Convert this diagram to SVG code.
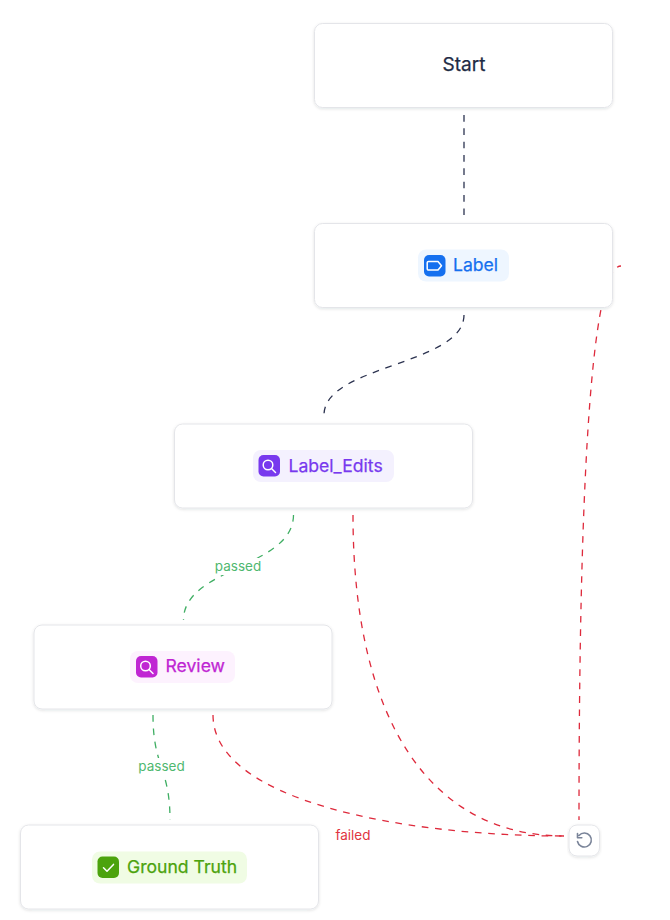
<svg xmlns="http://www.w3.org/2000/svg" width="670" height="920" viewBox="0 0 670 920">
<defs>
<filter id="sh" x="-5%" y="-15%" width="110%" height="130%"><feDropShadow dx="0" dy="1" stdDeviation="1.5" flood-color="#1e293b" flood-opacity="0.12"/></filter>
<style>
.node{fill:#fff;stroke:#e4e5e9;stroke-width:1;filter:url(#sh)}
.t{font-family:Inter,"Liberation Sans",sans-serif;font-size:17.6px;font-weight:400;text-anchor:start;stroke-width:.25px}
.e{fill:none;stroke-width:1.3;stroke-dasharray:6.67 6.67}
.dark{stroke:#2c3350}.green{stroke:#3fae63}.red{stroke:#de2a3c}
.el{font-family:Inter,"Liberation Sans",sans-serif;font-size:13.5px;text-anchor:middle}
.ic{fill:none;stroke:#fff;stroke-width:1.5;stroke-linecap:round;stroke-linejoin:round}
</style>
</defs>
<rect width="670" height="920" fill="#fff"/>
<g id="connectors">
<path class="e dark" d="M464 115V216"/>
<path class="e dark" d="M464 315C464 365 324 365 324 415"/>
<path class="e green" d="M293.500 515C293.500 567.500 183.500 567.500 183.500 620"/>
<path class="e green" d="M153 715C153 767.500 170 767.500 170 820"/>
<path class="e red" d="M353 515C353 720 430 836 564 836"/>
<path class="e red" d="M213 715C213 800 400 836 564 836"/>
<path class="e red" stroke-dashoffset="3" d="M579 820C579 500 590 266 621 266"/>
</g>
<g id="edge-labels">
<rect x="213" y="558" width="50" height="17" fill="#fff"/>
<text class="el" x="238" y="571" fill="#4fb86f">passed</text>
<rect x="137" y="758" width="50" height="17" fill="#fff"/>
<text class="el" x="161.500" y="771" fill="#4fb86f">passed</text>
<text class="el" x="353" y="840" fill="#e0353f">failed</text>
</g>
<g id="start"><rect class="node" x="314.500" y="23.500" width="298" height="84" rx="8"/>
<text class="t" x="464" y="70.500" fill="#1e2b45" stroke="#1e2b45" style="text-anchor:middle;font-size:19px">Start</text></g>
<g id="label"><rect class="node" x="314.500" y="223.500" width="298" height="84" rx="8"/>
<rect x="418" y="249.500" width="91" height="32" rx="8" fill="#eef6ff"/>
<rect x="424" y="255" width="21.500" height="21.500" rx="5" fill="#1570ef"/>
<path class="ic" d="M428.500 261.500h9.500l3.500 4.200-3.500 4.300h-9.500a1.300 1.300 0 0 1-1.300-1.300v-5.900a1.300 1.300 0 0 1 1.300-1.300z"/>
<text class="t" x="453" y="271" fill="#1570ef" stroke="#1570ef">Label</text></g>
<g id="label-edits"><rect class="node" x="174.500" y="424" width="298" height="84" rx="8"/>
<rect x="253" y="450" width="141" height="32" rx="8" fill="#f4f1fe"/>
<rect x="258.500" y="455" width="21.500" height="21.500" rx="5" fill="#7839ee"/>
<circle class="ic" cx="268" cy="465" r="4.800"/><path class="ic" d="M271.500 468.500l4 4"/>
<text class="t" x="288.500" y="472" fill="#7839ee" stroke="#7839ee">Label_Edits</text></g>
<g id="review"><rect class="node" x="34" y="625" width="298" height="84" rx="8"/>
<rect x="130" y="651" width="105" height="32" rx="8" fill="#fdf2fe"/>
<rect x="136" y="656" width="21.500" height="21.500" rx="5" fill="#c026d3"/>
<circle class="ic" cx="145.500" cy="666" r="4.800"/><path class="ic" d="M149 669.500l4 4"/>
<text class="t" x="165.500" y="672" fill="#c026d3" stroke="#c026d3">Review</text></g>
<g id="ground-truth"><rect class="node" x="20.500" y="825" width="298" height="84" rx="8"/>
<rect x="92" y="851.500" width="155" height="32" rx="8" fill="#f0fce4"/>
<rect x="97.500" y="856.500" width="21.500" height="21.500" rx="5" fill="#4ca30d"/>
<path class="ic" d="M103.500 867.800l3.500 3.400 6.500-6.800"/>
<text class="t" x="127" y="872.500" fill="#4ca30d" stroke="#4ca30d">Ground Truth</text></g>
<g id="loop"><rect x="569" y="825" width="30.500" height="31" rx="8" fill="#fff" stroke="#e4e5e9" filter="url(#sh)"/>
<path fill="none" stroke="#7a8499" stroke-width="1.600" stroke-linecap="round" stroke-linejoin="round" d="M579 835.500a7 7 0 1 1-1.500 6M577.500 833.500v4.300h4.300"/></g>
</svg>
